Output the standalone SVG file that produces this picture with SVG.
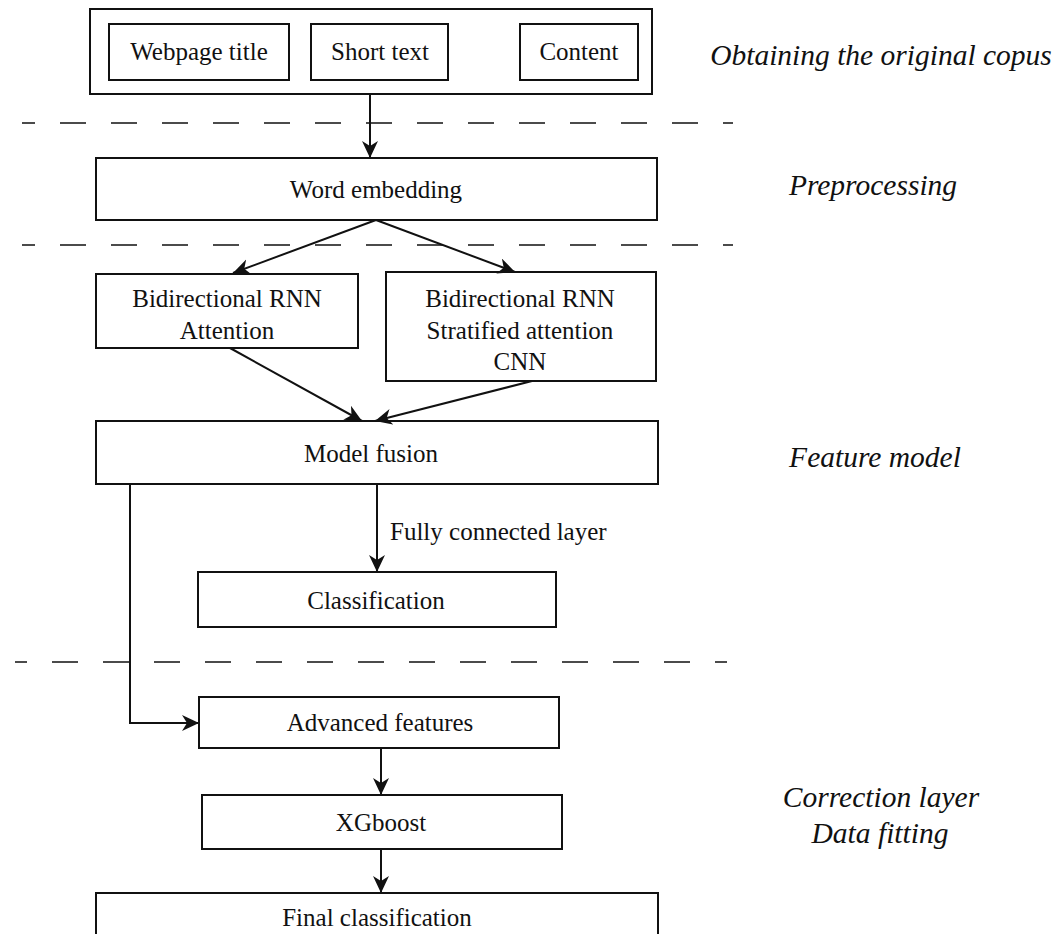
<svg xmlns="http://www.w3.org/2000/svg" width="1059" height="934" viewBox="0 0 1059 934">
<style>
.box{fill:#fff;stroke:#111;stroke-width:2}
.t{font-family:"Liberation Serif","Times New Roman",serif;font-size:25px;fill:#111;text-anchor:middle}
.it{font-family:"Liberation Serif","Times New Roman",serif;font-size:29.5px;font-style:italic;fill:#111;text-anchor:middle}
.c{fill:none;stroke:#111;stroke-width:2}
.d{fill:none;stroke:#111;stroke-width:1.6;stroke-dasharray:26 25}
</style>
<defs>
<marker id="ah" markerUnits="userSpaceOnUse" markerWidth="20" markerHeight="18" refX="17" refY="8" orient="auto">
<path d="M0,0 L17,8 L0,16 L5,8 z" fill="#111"/>
</marker>
</defs>
<rect width="1059" height="934" fill="#fff"/>
<g id="separators">
<line class="d" x1="22" y1="123" x2="733" y2="123" stroke-dashoffset="13"/>
<line class="d" x1="22" y1="245" x2="733" y2="245" stroke-dashoffset="13"/>
<line class="d" x1="15" y1="662" x2="727" y2="662" stroke-dashoffset="14"/>
</g>
<g id="stage-labels">
<text class="it" x="881" y="65">Obtaining the original copus</text>
<text class="it" x="873" y="195">Preprocessing</text>
<text class="it" x="875" y="467">Feature model</text>
<text class="it" x="881" y="807">Correction layer</text>
<text class="it" x="880" y="843">Data fitting</text>
</g>
<g id="corpus">
<rect class="box" x="90" y="9" width="562" height="85"/>
</g>
<g id="webpage-title">
<rect class="box" x="109" y="24" width="180" height="56"/>
<text class="t" x="199" y="60">Webpage title</text>
</g>
<g id="short-text">
<rect class="box" x="311" y="24" width="137" height="56"/>
<text class="t" x="380" y="60">Short text</text>
</g>
<g id="content">
<rect class="box" x="520" y="24" width="118" height="56"/>
<text class="t" x="579" y="60">Content</text>
</g>
<g id="word-embedding">
<rect class="box" x="96" y="158" width="561" height="62"/>
<text class="t" x="376" y="198">Word embedding</text>
</g>
<g id="rnn-attention">
<rect class="box" x="96" y="274" width="262" height="74"/>
<text class="t" x="227" y="307">Bidirectional RNN</text>
<text class="t" x="227" y="339">Attention</text>
</g>
<g id="rnn-stratified-cnn">
<rect class="box" x="386" y="272" width="270" height="109"/>
<text class="t" x="520" y="307">Bidirectional RNN</text>
<text class="t" x="520" y="339">Stratified attention</text>
<text class="t" x="520" y="370">CNN</text>
</g>
<g id="model-fusion">
<rect class="box" x="96" y="421" width="562" height="63"/>
<text class="t" x="371" y="462">Model fusion</text>
</g>
<g id="classification">
<rect class="box" x="198" y="572" width="358" height="55"/>
<text class="t" x="376" y="609">Classification</text>
</g>
<g id="advanced-features">
<rect class="box" x="199" y="697" width="360" height="51"/>
<text class="t" x="380" y="731">Advanced features</text>
</g>
<g id="xgboost">
<rect class="box" x="202" y="795" width="360" height="54"/>
<text class="t" x="381" y="831">XGboost</text>
</g>
<g id="final-classification">
<rect class="box" x="96" y="893" width="562" height="60"/>
<text class="t" x="377" y="926">Final classification</text>
</g>
<g id="connectors">
<line class="c" x1="370" y1="94" x2="370" y2="158" marker-end="url(#ah)"/>
<line class="c" x1="376" y1="220" x2="233" y2="273" marker-end="url(#ah)"/>
<line class="c" x1="376" y1="220" x2="515" y2="272" marker-end="url(#ah)"/>
<line class="c" x1="230" y1="348" x2="362" y2="421" marker-end="url(#ah)"/>
<line class="c" x1="532" y1="381" x2="375" y2="421" marker-end="url(#ah)"/>
<line class="c" x1="377" y1="484" x2="377" y2="572" marker-end="url(#ah)"/>
<text class="t" x="390" y="540" style="text-anchor:start">Fully connected layer</text>
<polyline class="c" points="130,484 130,723 199,723" marker-end="url(#ah)"/>
<line class="c" x1="381" y1="748" x2="381" y2="795" marker-end="url(#ah)"/>
<line class="c" x1="381" y1="849" x2="381" y2="893" marker-end="url(#ah)"/>
</g>
</svg>
